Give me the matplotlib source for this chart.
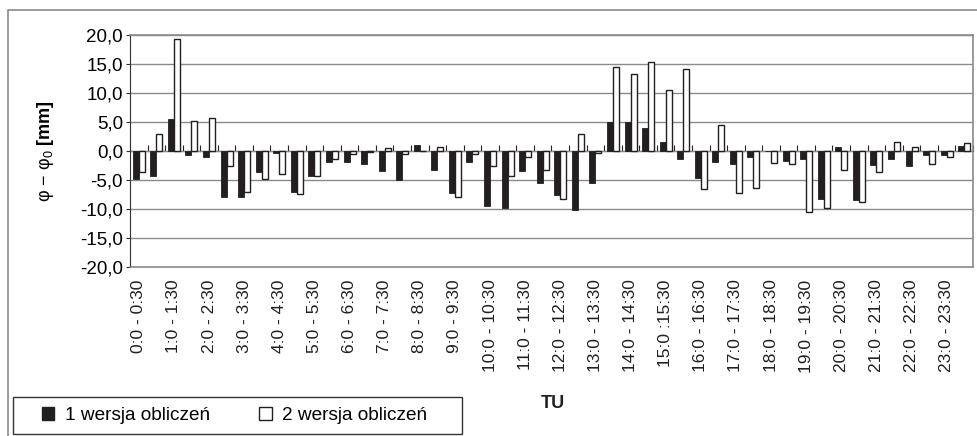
import matplotlib.pyplot as plt
import numpy as np
from matplotlib.patches import Rectangle, Patch

plt.rcParams['font.family'] = ['Liberation Sans', 'DejaVu Sans']
plt.rcParams['mathtext.fontset'] = 'custom'
plt.rcParams['mathtext.rm'] = 'Liberation Sans'
plt.rcParams['mathtext.it'] = 'Liberation Sans'
plt.rcParams['mathtext.bf'] = 'Liberation Sans:bold'

# 48 half-hour intervals, only every other label shown
labels = []
for h in range(24):
    labels.append("%d:0 - %d:30" % (h, h))
    labels.append("%d:30 - %d:0" % (h, h + 1))
labels[30] = "15:0 :15:30"

v1 = [-4.9, -4.3, 5.6, -0.75, -1.0, -7.9, -7.9, -3.7,
      -0.3, -7.1, -4.3, -1.9, -1.9, -2.2, -3.4, -5.0,
      1.0, -3.2, -7.3, -1.9, -9.4, -9.8, -3.4, -5.6,
      -7.6, -10.1, -5.6, 5.0, 5.0, 4.0, 1.6, -1.3,
      -4.6, -1.9, -2.2, -1.0, 0.0, -1.8, -1.3, -8.2,
      0.75, -8.5, -2.4, -1.3, -2.5, -0.7, -0.7, 0.9]
v2 = [-3.6, 3.0, 19.3, 5.2, 5.7, -2.5, -7.0, -4.9,
      -4.0, -7.4, -4.3, -1.4, -0.6, -0.1, 0.6, -0.6,
      0.0, 0.7, -7.9, -0.6, -2.5, -4.3, -1.0, -3.3,
      -8.2, 3.0, -0.3, 14.5, 13.3, 15.4, 10.5, 14.2,
      -6.6, 4.5, -7.3, -6.3, -2.1, -2.2, -10.5, -9.9,
      -3.3, -8.8, -3.6, 1.5, 0.7, -2.2, -1.0, 1.3]
yticks = [-20, -15, -10, -5, 0, 5, 10, 15, 20]

W, H = 978, 436
fig = plt.figure(figsize=(W / 100, H / 100), dpi=100)
ax = fig.add_axes([130 / W, 1 - 267 / H, (973 - 130) / W, (267 - 35) / H])

x = np.arange(len(labels))
w = 0.34
ax.bar(x - w / 2, v1, w, color='#231f20', edgecolor='#231f20', linewidth=0.6, zorder=3)
ax.bar(x + w / 2, v2, w, color='white', edgecolor='#231f20', linewidth=1.0, zorder=3)

ax.set_xlim(-0.5, len(labels) - 0.5)
ax.set_ylim(-20, 20)
ax.set_yticks(yticks)
ax.set_yticklabels([("%.1f" % t).replace('.', ',') for t in yticks])
ax.yaxis.grid(True, color='#8a8a8a', linewidth=1.0, zorder=0)
ax.tick_params(axis='y', labelsize=13.5, length=3, color='#333333', pad=2)

ax.set_xticks(x[::2])
ax.set_xticklabels(labels[::2], rotation=90, fontsize=12.5, color='#231f20')
ax.tick_params(axis='x', length=0, pad=9)

# zero axis with tick marks at category boundaries
sec = ax.secondary_xaxis(0.5)
sec.set_xticks(np.arange(len(labels) + 1) - 0.5)
sec.set_xticklabels([])
sec.tick_params(axis='x', direction='out', length=4, width=0.8, color='#222222')
sec.spines['bottom'].set_color('#111111')
sec.spines['bottom'].set_linewidth(1.0)

for s in ['top', 'right', 'bottom']:
    ax.spines[s].set_color('#8a8a8a')
    ax.spines[s].set_linewidth(1.2)
ax.spines['left'].set_color('#333333')

ax.set_ylabel(r'φ − φ$_0$ $\mathbf{[mm]}$', fontsize=13, labelpad=17)
fig.text(553 / W, 1 - 403 / H, 'TU', fontsize=13, fontweight='bold', ha='center', va='center',
         color='#231f20')

# outer chart border
fig.add_artist(Rectangle((8 / W, -0.05), 1.0, 1 - 10 / H + 0.05, transform=fig.transFigure,
                         fill=False, edgecolor='#8a8a8a', linewidth=1.2))

# legend box
fig.add_artist(Rectangle((13 / W, 1 - 434 / H), (462 - 13) / W, 37 / H, transform=fig.transFigure,
                         fill=False, edgecolor='#333333', linewidth=1.0))
handles = [Patch(facecolor='#231f20', edgecolor='#231f20'),
           Patch(facecolor='white', edgecolor='#231f20')]
leg = fig.legend(handles, ['1 wersja obliczeń', '2 wersja obliczeń'], ncol=2,
                 loc='center left', bbox_to_anchor=(42 / W, 1 - 415.5 / H),
                 fontsize=13.7, frameon=False, handlelength=0.65, handleheight=0.65,
                 handletextpad=0.55, columnspacing=2.6, borderpad=0, borderaxespad=0)

fig.savefig('out.png', dpi=100)
